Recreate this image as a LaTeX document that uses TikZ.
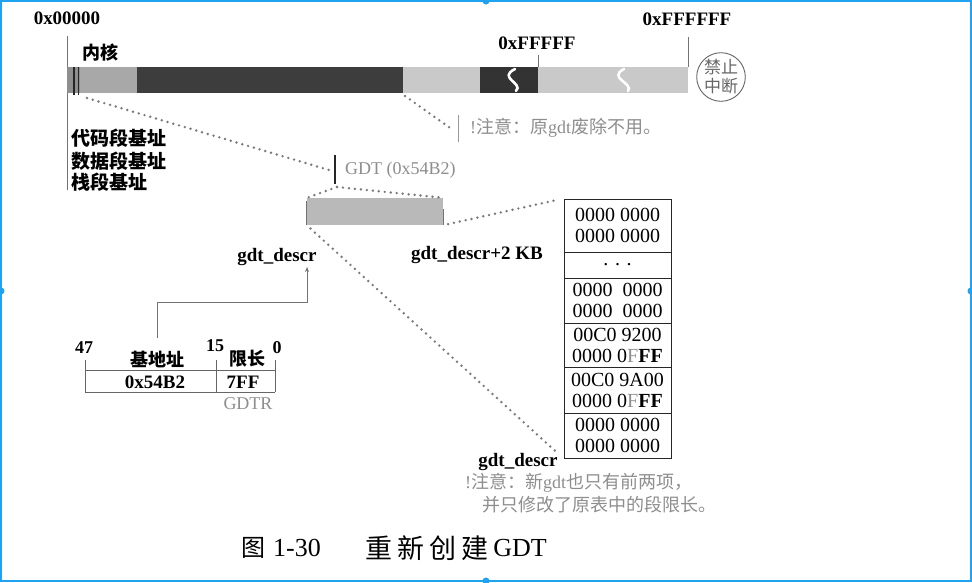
\documentclass[tikz,border=0pt]{standalone}
\usepackage{fontspec}
\setmainfont{Liberation Serif}
\newfontfamily\cjk{Noto Sans CJK SC}
\usetikzlibrary{arrows.meta}
\definecolor{txtgray}{HTML}{8E8E8E}
\definecolor{dotgray}{HTML}{7A7A7A}
\definecolor{segA}{HTML}{8F8F8F}
\definecolor{segB}{HTML}{A8A8A8}
\definecolor{segC}{HTML}{3D3D3D}
\definecolor{segD}{HTML}{C9C9C9}
\definecolor{segE}{HTML}{333333}
\definecolor{barg}{HTML}{B9B9B9}
\definecolor{frameblue}{HTML}{1FA2F0}
\newcommand\fsz[1]{\fontsize{#1}{#1}\selectfont}
\tikzset{
  lbl/.style={inner sep=0pt, font=\bfseries\fsz{19}},
  cjklbl/.style={inner sep=0pt, font=\cjk\bfseries\fsz{18}},
  note/.style={inner sep=0pt, text=txtgray, font=\fsz{18}},
  dotl/.style={draw=dotgray, line width=2.7pt, line cap=round, dash pattern=on 0pt off 6pt},
  thin/.style={draw=black!55, line width=0.8pt},
  tbl/.style={draw=black!85, line width=1pt, minimum width=107pt, inner sep=0pt,
              font=\fontsize{20}{21}\selectfont, align=center},
  sstroke/.style={draw=white, line width=2.6pt, line cap=round}
}
\begin{document}
\begin{tikzpicture}[x=1pt,y=-1pt]
\useasboundingbox (0,0) rectangle (972,582);
\fill[white] (0,0) rectangle (972,582);

% frame
\draw[frameblue, line width=2pt] (1,1) rectangle (971,581);
\foreach \p in {(486,1),(1,291),(971,291),(486,581)} \fill[frameblue] \p circle (3.5);

% axis lines
\draw[thin] (67,36) -- (67,190);
\draw[thin] (538,55) -- (538,67);
\draw[thin] (688,37) -- (688,67);

% memory bar
\fill[segA] (67,67) rectangle (80,93);
\fill[segB] (80,67) rectangle (137,93);
\fill[segC] (137,67) rectangle (403,93);
\fill[segD] (403,67) rectangle (480,93);
\fill[segE] (480,67) rectangle (538,93);
\fill[segD] (538,67) rectangle (688,93);
\draw[black!85, line width=1.3pt] (74,67) -- (74,95);
\draw[black!85, line width=1.3pt] (78.5,67) -- (78.5,95);
\draw[sstroke] (515,69) .. controls (497,78) and (524,83) .. (516,91);
\draw[sstroke] (624,69) .. controls (607,78) and (634,83) .. (628,91);
\coordinate (kern) at (87,98);
\coordinate (oldgdt) at (405,96);

% top labels
\node[lbl] (a0) at (67,18) {0x00000};
\node[lbl] (a1) at (537,43) {0xFFFFF};
\node[lbl] (a2) at (687,19) {0xFFFFFF};
\node[cjklbl, font=\cjk\bfseries\fsz{18}] (nk) at (100,53) {内核};
\node[circle, draw=black!60, line width=0.9pt, minimum size=48pt, inner sep=0pt,
      text=black!60, font=\cjk\fontsize{17}{19}\selectfont, align=center] (nmi) at (721,77) {禁止\\中断};

% left labels
\node[cjklbl, anchor=west, font=\cjk\bfseries\fsz{19}] (l1) at (71,138) {代码段基址};
\node[cjklbl, anchor=west, font=\cjk\bfseries\fsz{19}] (l2) at (71,161) {数据段基址};
\node[cjklbl, anchor=west, font=\cjk\bfseries\fsz{19}] (l3) at (71,182) {栈段基址};

% old gdt note
\draw[thin, draw=black!40] (458,115) -- (458,142);
\coordinate (n1) at (453,130);
\node[note, anchor=west] (note1) at (470,128) {!{\cjk 注意：原}gdt{\cjk 废除不用。}};
\draw[dotl] (oldgdt) -- (n1);

% GDT marker
\draw[black!85, line width=2.6pt] (335,155) -- (335,184);
\coordinate (gmt) at (329,170);
\coordinate (gmb) at (337,187);
\node[note, anchor=west, font=\fsz{18}] (gdtl) at (345,170) {GDT (0x54B2)};
\draw[dotl] (kern) -- (gmt);

% GDT bar
\node[fill=barg, minimum width=136pt, minimum height=27pt, inner sep=0pt] (gdtbar) at (375,211.5) {};
\draw[dotl, shorten >=2pt] (gmb) -- (gdtbar.north west);
\draw[dotl, shorten >=2pt] (gmb) -- (gdtbar.north east);
\draw[thin] (gdtbar.south west) -- ++(0,-24);
\draw[thin] (gdtbar.south east) -- ++(0,-16);
\node[lbl, anchor=base] (gd1) at (277,261) {gdt\_descr};
\node[lbl, anchor=base] (gd2) at (477,259) {gdt\_descr+2 KB};

% table
\node[tbl, minimum height=53pt] (r1) at (617.5,225.5) {0000 0000\\0000 0000};
\node[tbl, minimum height=26pt] (r2) at (617.5,265) {. . .};
\node[tbl, minimum height=45pt] (r3) at (617.5,300.5) {0000\ \ 0000\\0000\ \ 0000};
\node[tbl, minimum height=44pt] (r4) at (617.5,345) {00C0 9200\\0000 0{\color{txtgray}F}\textbf{FF}};
\node[tbl, minimum height=46pt] (r5) at (617.5,390) {00C0 9A00\\0000 0{\color{txtgray}F}\textbf{FF}};
\node[tbl, minimum height=45pt] (r6) at (617.5,435.5) {0000 0000\\0000 0000};
\draw[dotl, shorten <=5pt, shorten >=6pt] (gdtbar.south east) -- (r1.north west);
\draw[dotl, shorten <=5pt, shorten >=9pt] (gdtbar.south west) -- (r6.south west);
\node[lbl] (gd3) at (518,462) {gdt\_descr};
\node[note, anchor=west] (note2) at (465,483) {!{\cjk 注意：新}gdt{\cjk 也只有前两项，}};
\node[note, anchor=west] (note3) at (482,505) {{\cjk 并只修改了原表中的段限长。}};

% GDTR
\draw[thin, draw=black!60] (85,370) -- (275,370);
\draw[thin, draw=black!60] (85,392) -- (275,392);
\draw[thin, draw=black!60] (85,360) -- (85,392);
\draw[thin, draw=black!60] (216,360) -- (216,392);
\draw[thin, draw=black!60] (275,360) -- (275,392);
\node[lbl, font=\bfseries\fsz{18}] (b47) at (84,348) {47};
\node[lbl, font=\bfseries\fsz{18}] (b15) at (215,346) {15};
\node[lbl, font=\bfseries\fsz{18}] (b0) at (277,348) {0};
\node[cjklbl] (jdz) at (157,359) {基地址};
\node[cjklbl] (xc) at (247,359) {限长};
\node[lbl] (v1) at (155,382) {0x54B2};
\node[lbl] (v2) at (243,382) {7FF};
\node[note, font=\fsz{18}] (gdtr) at (248,404) {GDTR};
\coordinate (ga) at (157,338);
\coordinate (gb) at (307,267);
\draw[thin, -{Stealth[length=5pt,width=4pt]}] (ga) -- ++(0,-36) -| (gb);

% caption
\node[inner sep=0pt, font=\cjk\fsz{24}] (c1) at (253,548) {图};
\node[inner sep=0pt, font=\fsz{26}] (c2) at (297,548) {1-30};
\node[inner sep=0pt, font=\cjk\fsz{27}] (c3) at (427,548) {\makebox[32pt]{重}\makebox[32pt]{新}\makebox[32pt]{创}\makebox[32pt]{建}};
\node[inner sep=0pt, font=\fsz{26}] (c4) at (520,548) {GDT};
\end{tikzpicture}
\end{document}
